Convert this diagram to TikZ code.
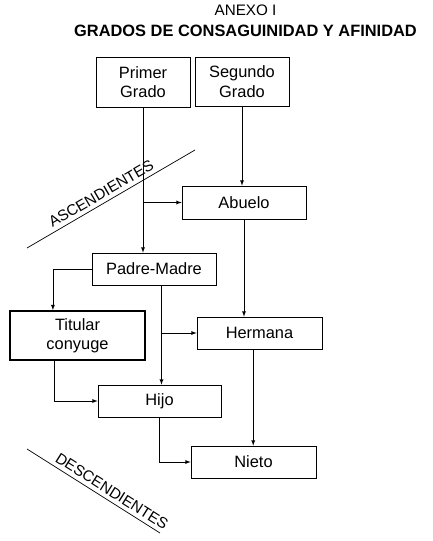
\documentclass[tikz,border=0pt]{standalone}
\usepackage{fontspec}
\setmainfont{Liberation Sans}
\usetikzlibrary{calc,positioning,arrows}

\begin{document}
\begin{tikzpicture}[x=0.03cm,y=-0.03cm,
	caja/.style={draw, line width=0.6pt, align=center, inner sep=0pt, font=\fontsize{14}{16.5}\selectfont},
	flecha/.style={-latex, line width=0.6pt}]
	\useasboundingbox (0,0) rectangle (433,541);
	\coordinate (a1) at(27,248);
	\coordinate (a2) at(195,150);
	\coordinate (d1) at(27,449);
	\coordinate (d2) at(160,533);
	\node at(245.5,10.5) {\fontsize{13}{15}\selectfont ANEXO I};
	\node at(245.5,31) {\fontsize{14}{16}\selectfont\bfseries GRADOS DE CONSAGUINIDAD Y AFINIDAD};
	\node[caja, minimum width=2.82cm, minimum height=1.5cm] (primer) at(143,82) {Primer\\Grado};
	\node[caja, minimum width=2.82cm, minimum height=1.47cm] (segundo) at(242,81.5) {Segundo\\Grado};
	\node[caja, minimum width=3.72cm, minimum height=0.99cm] (abuelo) at(244,202.5) {Abuelo};
	\node[caja, minimum width=3.72cm, minimum height=0.96cm] (padre) at(154,269) {Padre-Madre};
	\node[caja, line width=1.4pt, minimum width=4.05cm, minimum height=1.47cm] (titular) at(77.5,335.5) {Titular\\conyuge};
	\node[caja, minimum width=3.75cm, minimum height=0.96cm] (hermana) at(259.5,333) {Hermana};
	\node[caja, minimum width=3.69cm, minimum height=0.96cm] (hijo) at(159.5,401) {Hijo};
	\node[caja, minimum width=3.75cm, minimum height=0.96cm] (nieto) at(253.5,462) {Nieto};
	% lineas de parentesco
	\draw[flecha] (primer.south) -- (primer.south |- padre.north);
	\draw[flecha] (primer.south |- abuelo.west) -- (abuelo.west);
	\draw[flecha] (segundo.south) -- (segundo.south |- abuelo.north);
	\draw[flecha] (abuelo.south) -- (abuelo.south |- hermana.north);
	\draw[flecha] (padre.west) -| ($(titular.north west)!0.32!(titular.north east)$);
	\coordinate (pm) at($(padre.south west)!0.56!(padre.south east)$);
	\draw[flecha] (pm) -- (pm |- hijo.north);
	\draw[flecha] (pm |- hermana.west) -- (hermana.west);
	\draw[flecha] ($(titular.south west)!0.33!(titular.south east)$) |- (hijo.west);
	\coordinate (hm) at($(hermana.south west)!0.45!(hermana.south east)$);
	\draw[flecha] (hm) -- (hm |- nieto.north);
	\draw[flecha] (hijo.south) |- (nieto.west);
	% ascendientes y descendientes
	\draw[line width=0.6pt] (a1) -- node[pos=0.47, above, sloped, font=\fontsize{13}{15}\selectfont] {ASCENDIENTES} (a2);
	\draw[line width=0.6pt] (d1) -- node[pos=0.6, above, sloped, font=\fontsize{13}{15}\selectfont] {DESCENDIENTES} (d2);
\end{tikzpicture}
\end{document}
